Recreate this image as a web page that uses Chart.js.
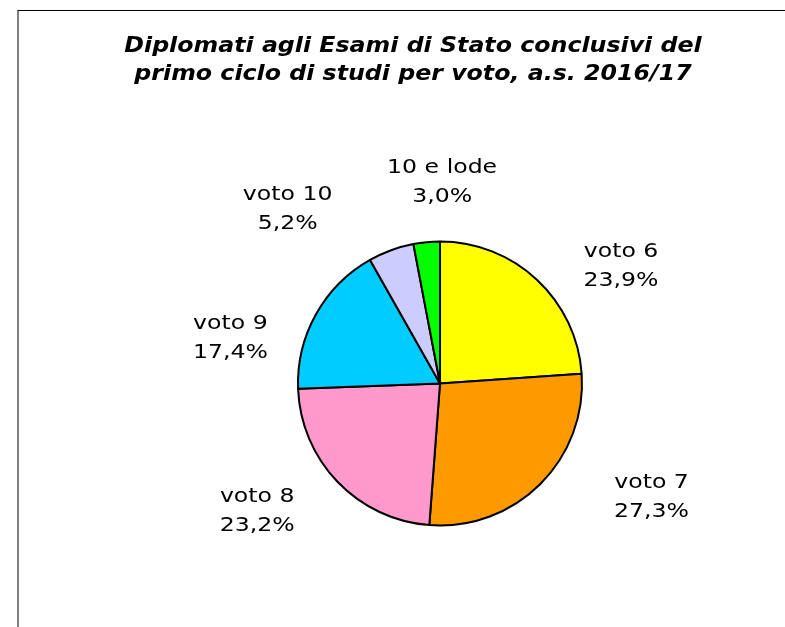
<!DOCTYPE html>
<html>
<head>
<meta charset="utf-8">
<script src="https://cdn.jsdelivr.net/npm/chart.js@4"></script>
<style>
  html, body { margin: 0; padding: 0; background: #fff; overflow: hidden; }
  #wrap { position: relative; width: 785px; height: 627px; }
  #frame {
    position: absolute; left: 17px; top: 10px; width: 800px; height: 700px;
    border-top: 1px solid #000; border-left: 2px solid #808080;
  }
  #chartCanvas { position: absolute; left: 0; top: 0; }
</style>
</head>
<body>
<div id="wrap">
  <div id="frame"></div>
  <canvas id="chartCanvas" width="785" height="627"></canvas>
</div>
<script>
// Dati
const categorie = ['voto 6', 'voto 7', 'voto 8', 'voto 9', 'voto 10', '10 e lode'];
const percentuali = [23.9, 27.3, 23.2, 17.4, 5.2, 3.0];
const colori = ['#FFFF00', '#FF9900', '#FF99CC', '#00CCFF', '#CCCCFF', '#00FF00'];
const titolo = ['Diplomati agli Esami di Stato conclusivi del', 'primo ciclo di studi per voto, a.s. 2016/17'];

// label placement: angle shift (deg) from the slice middle, distance in radii
const spostamentoAngolo = [14, -17, 9, -17, -21, 6];
const distanzaEtichetta = [1.52, 1.69, 1.57, 1.51, 1.63, 1.42];

const FONT = '"DejaVu Sans", Verdana, sans-serif';

// the original text is a bit wider than DejaVu, so stretch it horizontally
function testoLargo(ctx, testo, x, y, sx) {
    ctx.save();
    ctx.translate(x, y);
    ctx.scale(sx, 1);
    ctx.fillText(testo, 0, 0);
    ctx.restore();
}

// title drawn by hand so it can sit left of the pie centre like the original
const titlePlugin = {
    id: 'titolo',
    afterDraw(chart) {
        const ctx = chart.ctx;
        ctx.save();
        ctx.fillStyle = '#000';
        ctx.font = 'italic bold 22px ' + FONT;
        ctx.textAlign = 'center';
        ctx.textBaseline = 'middle';
        titolo.forEach((riga, i) => testoLargo(ctx, riga, 413, 46 + i * 28.5, 1.077));
        ctx.restore();
    }
};

const labelPlugin = {
    id: 'etichette',
    afterDatasetsDraw(chart) {
        const ctx = chart.ctx;
        const meta = chart.getDatasetMeta(0);
        ctx.save();
        ctx.fillStyle = '#000';
        ctx.font = '20px ' + FONT;
        ctx.textAlign = 'center';
        ctx.textBaseline = 'middle';
        meta.data.forEach((arc, i) => {
            const p = arc.getProps(['x', 'y', 'startAngle', 'endAngle', 'outerRadius'], true);
            const mid = (p.startAngle + p.endAngle) / 2 + spostamentoAngolo[i] * Math.PI / 180;
            const d = p.outerRadius * distanzaEtichetta[i];
            const cx = p.x + Math.cos(mid) * d;
            const cy = p.y + Math.sin(mid) * d;
            const valore = percentuali[i].toFixed(1).replace('.', ',') + '%';
            testoLargo(ctx, categorie[i], cx, cy - 14.5, 1.18);
            testoLargo(ctx, valore, cx, cy + 14.5, 1.18);
        });
        ctx.restore();
    }
};

const config = {
    type: 'pie',
    data: {
        labels: categorie,
        datasets: [{
            data: percentuali,
            backgroundColor: colori,
            borderColor: '#000',
            borderWidth: 2
        }]
    },
    options: {
        responsive: false,
        animation: false,
        radius: 142,
        layout: {
            padding: { left: 297, right: 202, top: 240, bottom: 100 }
        },
        plugins: {
            legend: { display: false },
            title: { display: false },
            tooltip: { enabled: false }
        }
    },
    plugins: [titlePlugin, labelPlugin]
};

new Chart(document.getElementById('chartCanvas').getContext('2d'), config);
</script>
</body>
</html>
